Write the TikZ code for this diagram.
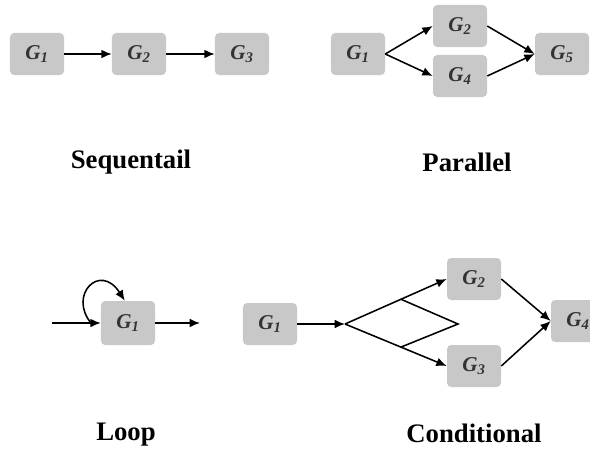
\documentclass[tikz,border=0pt]{standalone}
\usepackage{fontspec}
\setmainfont{Liberation Serif}
\usepackage{tikz}
\usetikzlibrary{shapes, arrows.meta, calc}
\definecolor{boxgray}{RGB}{200,200,200}
\tikzstyle{gbox} = [rectangle, rounded corners=3pt, minimum width=1.35cm, minimum height=1.05cm, inner sep=0pt, align=center, fill=boxgray, text=black!80, font=\bfseries\itshape\fontsize{15}{17}\selectfont]
\tikzstyle{caption} = [rectangle, font=\bfseries\fontsize{19}{22}\selectfont]
\tikzstyle{arrow} = [line width=1.1pt,->,>={Latex[length=2.6mm,width=2.2mm]}]
\tikzstyle{plain} = [line width=1.1pt]

\begin{document}
\begin{tikzpicture}[x=0.025cm, y=-0.025cm]
\useasboundingbox (0,0) rectangle (590,454);

% Sequential
\node (s1) [gbox] at (37,54) {G\textsubscript{1}};
\node (s2) [gbox] at (139,54) {G\textsubscript{2}};
\node (s3) [gbox] at (242,54) {G\textsubscript{3}};
\node (seqcap) [caption] at (131,162) {Sequentail};

\draw [arrow] (s1) -- (s2);
\draw [arrow] (s2) -- (s3);

% Parallel
\node (p1) [gbox] at (358,54) {G\textsubscript{1}};
\node (p2) [gbox] at (460,26) {G\textsubscript{2}};
\node (p4) [gbox] at (460,76) {G\textsubscript{4}};
\node (p5) [gbox] at (562,54) {G\textsubscript{5}};
\node (parcap) [caption] at (467,162) {Parallel};

\draw [arrow] (p1.east) -- (p2.west);
\draw [arrow] (p1.east) -- (p4.west);
\draw [arrow] (p2.east) -- (p5.west);
\draw [arrow] (p4.east) -- (p5.west);

% Loop
\node (l1) [gbox, minimum height=1.1cm] at (128,323) {G\textsubscript{1}};
\coordinate (loopin) at (52,323);
\coordinate (loopout) at (200,323);
\coordinate (loopjoin) at (91,323);
\node (loopcap) [caption] at (126,435) {Loop};

\draw [arrow] (loopin) -- (l1);
\draw [arrow] (l1) -- (loopout);
\draw [arrow] (loopjoin) .. controls (68,295) and (100,262) .. ([xshift=-0.08cm]l1.north);

% Conditional
\node (c1) [gbox] at (270,324) {G\textsubscript{1}};
\node (c2) [gbox] at (474,279) {G\textsubscript{2}};
\node (c3) [gbox] at (474,366) {G\textsubscript{3}};
\node (c4) [gbox] at (578,321) {G\textsubscript{4}};
\coordinate (split) at (345,324);
\coordinate (apex) at (458,324);
\node (condcap) [caption] at (474,433) {Conditional};

\draw [arrow] (c1) -- (split);
\draw [arrow] (split) -- (c2.west);
\draw [arrow] (split) -- (c3.west);
\draw [plain] ($(split)!0.55!(c2.west)$) -- (apex) -- ($(split)!0.55!(c3.west)$);
\draw [arrow] (c2.east) -- (c4.west);
\draw [arrow] (c3.east) -- (c4.west);

\end{tikzpicture}
\end{document}
